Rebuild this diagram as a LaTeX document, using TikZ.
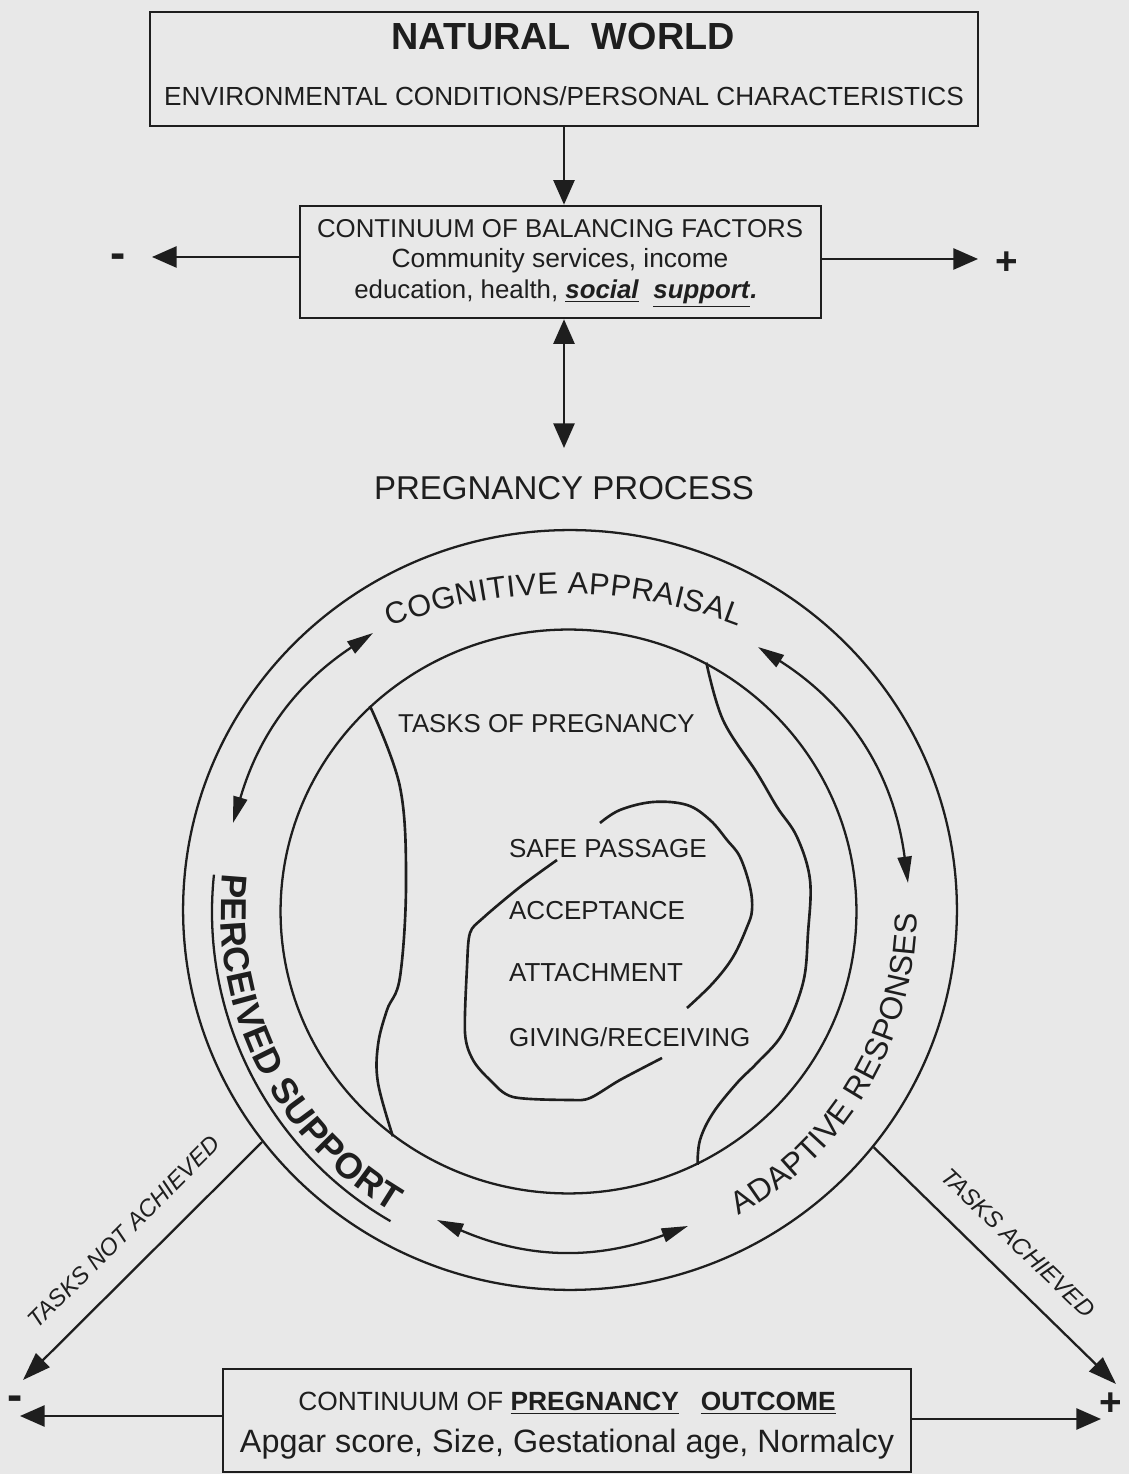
\documentclass[tikz,border=0pt]{standalone}
\usepackage{fontspec}
\setmainfont{Liberation Sans}
\usepackage{tikz}
\usetikzlibrary{shapes.geometric, arrows.meta, positioning, calc, decorations.text}
\definecolor{inkgray}{RGB}{30,30,30}
\definecolor{papergray}{RGB}{232,232,232}
\newcommand{\txtsize}[1]{\fontsize{#1pt}{#1pt}\selectfont}

\begin{document}
\begin{tikzpicture}[x=0.02cm, y=0.02cm, line width=1.3pt, color=inkgray,
    >={Triangle[length=14pt,width=12pt]},
    box/.style={draw, rectangle, line width=1.5pt, inner sep=0},
    lbl/.style={anchor=base, inner sep=0},
    signs/.style={inner sep=0, font=\bfseries\txtsize{22}},
    cyc/.style={<->, >={Triangle[length=15pt,width=8pt]}},
    spine/.style={line width=1.5pt}]
    % Paper
    \useasboundingbox (0,0) rectangle (1129,1474);
    \fill[papergray] (0,0) rectangle (1129,1474);

    % Natural world
    \node[box, minimum width=16.56cm, minimum height=2.28cm] (natural) at (564,1405) {};
    \node[lbl, font=\bfseries\txtsize{21.5}] (naturaltitle) at (563,1424) {NATURAL\ \ WORLD};
    \node[lbl, font=\txtsize{14.9}] (naturalsub) at (564,1368) {ENVIRONMENTAL CONDITIONS/PERSONAL CHARACTERISTICS};

    % Balancing factors
    \node[box, minimum width=10.42cm, minimum height=2.24cm] (balance) at (560.5,1212) {};
    \node[lbl, font=\txtsize{14.7}] (balance1) at (560,1236) {CONTINUUM OF BALANCING FACTORS};
    \node[lbl, font=\txtsize{15}] (balance2) at (560,1206) {Community services, income};
    \node[lbl, font=\txtsize{14.7}] (balance3) at (556,1175) {education, health, \underline{\textbf{\textit{social}}}\ \ \underline{\textbf{\textit{support}}}\textbf{\textit{.}}};
    \draw[->] (natural.south) -- (natural.south |- balance.north);

    \node[signs, font=\bfseries\txtsize{26}] (balminus) at (118,1213) {-};
    \node[signs] (balplus) at (1007,1211) {+};
    \coordinate (balleft) at (152,1217);
    \coordinate (balright) at (978,1215);
    \draw[->] (balance.west |- balleft) -- (balleft);
    \draw[->] (balance.east |- balright) -- (balright);

    % Pregnancy process
    \node[lbl, font=\txtsize{18.8}] (process) at (564,974) {PREGNANCY PROCESS};
    \coordinate (processtop) at (564,1026);
    \draw[<->] (balance.south -| processtop) -- (processtop);

    % Rings
    \coordinate (ctr) at (569,562);
    \coordinate (cogctr) at (565,400);
    \node[draw, ellipse, minimum width=15.48cm, minimum height=15.2cm, inner sep=0] (outer) at (570,564) {};
    \node[draw, ellipse, minimum width=11.52cm, minimum height=11.28cm, inner sep=0] (inner) at (568.5,562.5) {};

    % Cycle arrows
    \coordinate (ula) at (233,651);
    \coordinate (ulb) at (373,841);
    \coordinate (ura) at (758,827);
    \coordinate (urb) at (908,591);
    \coordinate (bta) at (437,254);
    \coordinate (btb) at (688,248);
    \draw[cyc] (ula) to[bend left=20] (ulb);
    \draw[cyc] (ura) to[bend left=25] (urb);
    \draw[cyc] (bta) to[bend right=22] (btb);

    % Ring labels
    \path[decorate, decoration={text along path, text align={fit to path}, text color=inkgray,
        text={|\txtsize{17.4}|COGNITIVE APPRAISAL}}] ($(cogctr)+(111.4:480)$) arc (111.4:68.9:480);
    \path[decorate, decoration={text along path, text align={fit to path}, text color=inkgray,
        text={|\bfseries\txtsize{20.5}|PERCEIVED SUPPORT}}] ($(ctr)+(173.6:348)$) arc (173.6:239.5:348);
    \draw ($(ctr)+(174:357)$) arc (174:240:357);
    \path[decorate, decoration={text along path, text align={fit to path}, text color=inkgray,
        text={|\txtsize{18}|ADAPTIVE RESPONSES}}] ($(ctr)+(-60.8:348)$) arc (-60.8:-0.3:348);

    % Inner dividers and spiral
    \draw[spine] plot[smooth, tension=0.6] coordinates {(inner.134) (400,687) (406,590) (400,497) (387,464) (378,429) (378,391) (inner.232)};
    \draw[spine] plot[smooth, tension=0.6] coordinates {(inner.61) (723,754) (757,701) (777,667) (797,637) (810,594) (808,541) (803,491) (783,441) (757,411) (737,391) (713,361) (700,334) (inner.297)};
    \draw[spine] plot[smooth, tension=0.6] coordinates {(600,651) (620,664) (653,672) (687,669) (710,654) (727,634) (740,617) (750,587) (752,564) (747,547) (733,517) (713,491) (687,466)};
    \draw[spine] plot[smooth, tension=0.5] coordinates {(557,614) (520,587) (483,556) (470,541) (467,507) (465,441) (473,414) (490,394) (513,377) (570,374) (590,376) (620,394) (662,416)};

    % Tasks
    \node[lbl, anchor=base west, font=\txtsize{14.7}] (tasks) at (397,741) {TASKS OF PREGNANCY};
    \node[lbl, anchor=base west, font=\txtsize{14.8}] (safe) at (508,616) {SAFE PASSAGE};
    \node[lbl, anchor=base west, font=\txtsize{14.8}] (accept) at (508,554) {ACCEPTANCE};
    \node[lbl, anchor=base west, font=\txtsize{14.8}] (attach) at (508,492) {ATTACHMENT};
    \node[lbl, anchor=base west, font=\txtsize{14.8}] (giving) at (508,427) {GIVING/RECEIVING};

    % Outcome branches
    \coordinate (notend) at (23,94);
    \coordinate (achend) at (1116,90);
    \draw[->, >={Triangle[length=16pt,width=11pt]}] (outer.217) -- (notend);
    \draw[->, >={Triangle[length=16pt,width=11pt]}] (outer.322) -- (achend);
    \node[font=\itshape\txtsize{13.5}, rotate=45] (notach) at (124,242) {TASKS NOT ACHIEVED};
    \node[font=\itshape\txtsize{13.5}, rotate=-44] (ach) at (1018,231) {TASKS ACHIEVED};

    % Pregnancy outcome
    \node[box, minimum width=13.76cm, minimum height=2.06cm] (outcome) at (567,53.5) {};
    \node[lbl, font=\txtsize{15}] (outcome1) at (567,63) {CONTINUUM OF \underline{\textbf{PREGNANCY}}\ \ \ \underline{\textbf{OUTCOME}}};
    \node[lbl, font=\txtsize{18.4}] (outcome2) at (567,21) {Apgar score, Size, Gestational age, Normalcy};
    \node[signs, font=\bfseries\txtsize{26}] (outminus) at (15,71) {-};
    \node[signs] (outplus) at (1111,70) {+};
    \coordinate (outleft) at (20,58);
    \coordinate (outright) at (1101,55);
    \draw[->] (outcome.west |- outleft) -- (outleft);
    \draw[->] (outcome.east |- outright) -- (outright);
\end{tikzpicture}
\end{document}
